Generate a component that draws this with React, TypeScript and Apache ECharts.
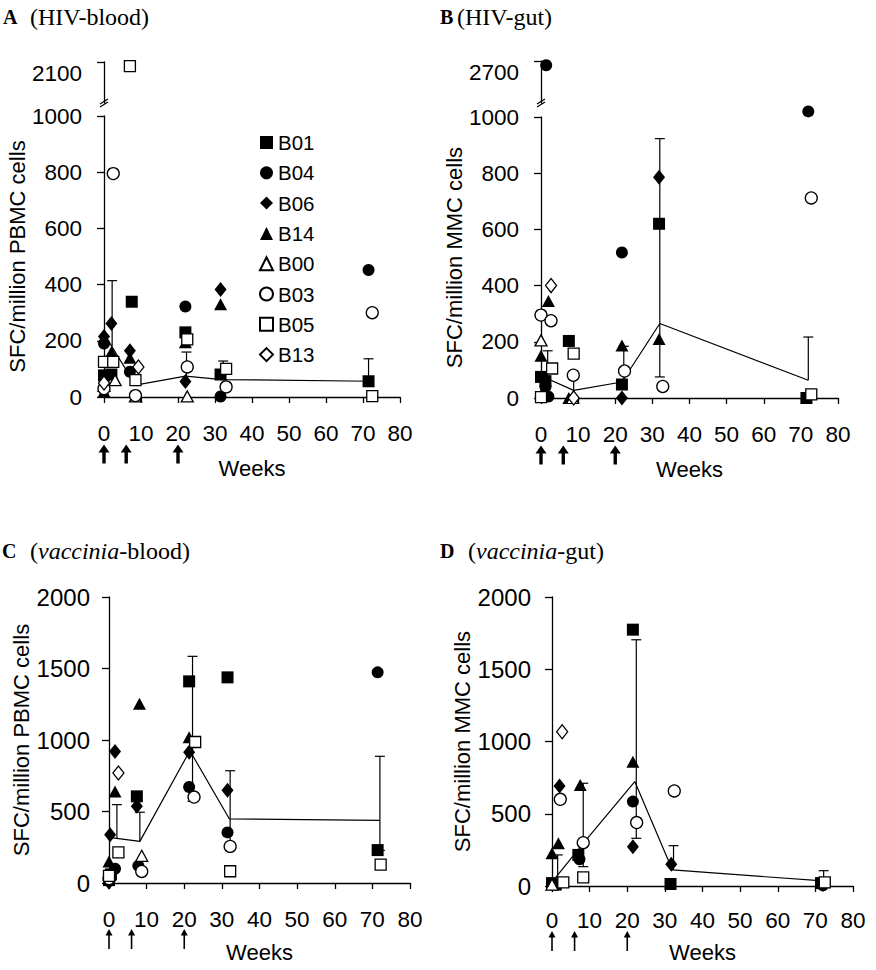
import React, { useEffect, useRef } from "react";
import * as echarts from "echarts";

const FONT = "Liberation Sans";
const SERIF = "Liberation Serif";

const patients = ["B01", "B04", "B06", "B14", "B00", "B03", "B05", "B13"];
const boostWeeks = [0, 6, 20];

// ---------- Panel A: HIV-blood ----------
const hivBloodB01 = [[0, 77], [2, 80], [7.5, 339], [22, 230], [31.5, 80], [71.5, 56]];
const hivBloodB04 = [[0, 190], [7, 90], [22, 322], [31.5, 2], [71.5, 452]];
const hivBloodB06 = [[0, 215], [2, 262], [7, 165], [22, 55], [31.5, 383]];
const hivBloodB14 = [[0, 20], [2, 160], [7, 140], [22, 195], [31.5, 330]];
const hivBloodB00 = [[0, 40], [3, 60], [8.5, 2], [22.5, 2]];
const hivBloodB03 = [[0, 30], [2.5, 795], [8.5, 5], [22.5, 107], [33, 36], [72.5, 300]];
const hivBloodB05 = [[0, 125], [2.5, 125], [8.5, 60], [22.5, 205], [33, 100], [72.5, 3]];
const hivBloodB13 = [[0, 50], [9.3, 107]];
const hivBloodHighB05 = [[7, 2080]];
const hivBloodMean = [[0.5, 215], [8.5, 42], [22, 74], [32, 62], [72, 56]];
const hivBloodError = [[2.2, 180, 414, 0], [22.3, 74, 160, 0], [32.2, 62, 128, 0], [71.5, 56, 136, 0]];

// ---------- Panel B: HIV-gut ----------
const hivGutB01 = [[0, 75], [1.2, 60], [7.5, 203], [21.8, 48], [31.8, 620], [71.5, 0]];
const hivGutB04 = [[1.2, 40], [2, 5], [21.8, 518], [72, 1020]];
const hivGutB06 = [[1, 20], [21.8, 0], [31.8, 786]];
const hivGutB14 = [[0, 150], [2, 345], [7.5, 0], [21.8, 187], [31.8, 210]];
const hivGutB00 = [[0, 205], [8.5, 0]];
const hivGutB03 = [[0, 295], [2.7, 275], [8.7, 81], [22.5, 96], [32.8, 41], [72.8, 712]];
const hivGutB05 = [[0, 3], [3, 105], [8.8, 158], [72.8, 13]];
const hivGutB13 = [[2.7, 400], [8.8, 0]];
const hivGutHighB04 = [[1.4, 2680]];
const hivGutMean = [[0.7, 75], [8.8, 27], [21.8, 57], [32, 265], [72, 63]];
const hivGutError = [[1.8, 70, 168, 0], [8.8, 27, 80, 0], [22.3, 57, 184, 0], [32, 75, 923, 1], [72, 63, 217, 0]];

// ---------- Panel C: vaccinia-blood ----------
const vacBloodB01 = [[0, 20], [0.5, 60], [7.4, 606], [21.3, 1410], [31.5, 1438], [71.4, 230]];
const vacBloodB04 = [[0.5, 40], [1.6, 100], [7.8, 120], [21.3, 671], [31.5, 354], [71.4, 1473]];
const vacBloodB06 = [[0, 5], [0.3, 338], [1.6, 920], [7.4, 536], [21.3, 914], [31.5, 648]];
const vacBloodB14 = [[0, 150], [1.6, 640], [8.1, 1254], [21.3, 1020]];
const vacBloodB00 = [[8.7, 190]];
const vacBloodB03 = [[0, 30], [8.7, 81], [22.6, 601], [32.2, 256]];
const vacBloodB05 = [[0, 50], [2.5, 214], [22.9, 986], [32.2, 82], [72.2, 128]];
const vacBloodB13 = [[2.5, 769]];
const vacBloodMean = [[1, 315], [8.2, 291], [21.5, 925], [32, 448], [72, 438]];
const vacBloodError = [[2.1, 315, 548, 0], [8.2, 291, 495, 0], [22.2, 571, 1585, 1], [32.2, 256, 785, 1], [72, 228, 886, 1]];

// ---------- Panel D: vaccinia-gut ----------
const vacGutB01 = [[0, 20], [1, 10], [7, 215], [21.5, 1774], [31.5, 14], [71.5, 20]];
const vacGutB04 = [[1, 15], [7.3, 185], [21.5, 584], [72, 5]];
const vacGutB06 = [[2, 692], [21.5, 272], [31.7, 150], [72, 10]];
const vacGutB14 = [[0, 226], [1.7, 295], [7.5, 699], [21.5, 860]];
const vacGutB00 = [[0, 10]];
const vacGutB03 = [[2.2, 600], [8.3, 300], [22.5, 439], [32.5, 658]];
const vacGutB05 = [[3, 25], [8.3, 60], [72.5, 25]];
const vacGutB13 = [[2.7, 1068]];
const vacGutMean = [[1, 60], [8.3, 295], [22, 723], [32, 111], [72, 35]];
const vacGutError = [[1.5, 60, 215, 0], [8.3, 134, 711, 1], [22.4, 330, 1704, 1], [32.3, 111, 279, 0], [72.2, 35, 106, 0]];

const markerStyle: Record<string, { symbol: string; size: any; filled: boolean }> = {
  B01: { symbol: "rect", size: 12, filled: true },
  B04: { symbol: "circle", size: 12, filled: true },
  B06: { symbol: "diamond", size: [12, 15], filled: true },
  B14: { symbol: "triangle", size: [13, 12], filled: true },
  B00: { symbol: "triangle", size: [12, 11], filled: false },
  B03: { symbol: "circle", size: 12, filled: false },
  B05: { symbol: "rect", size: 11, filled: false },
  B13: { symbol: "diamond", size: [11, 14], filled: false },
};

const AXIS_LINE = { lineStyle: { color: "#000", width: 1.3 } };
const plain = (v: number) => String(v);

function scatter(name: string, gi: number, data: number[][]) {
  const m = markerStyle[name];
  return {
    type: "scatter",
    name,
    xAxisIndex: gi,
    yAxisIndex: gi,
    data,
    symbol: m.symbol,
    symbolSize: m.size,
    clip: false,
    z: 4,
    itemStyle: m.filled
      ? { color: "#000", borderColor: "#000", borderWidth: 0, opacity: 1 }
      : { color: "#fff", borderColor: "#000", borderWidth: 1.3, opacity: 1 },
  };
}

function meanLine(gi: number, data: number[][]) {
  return {
    type: "line",
    name: "mean",
    xAxisIndex: gi,
    yAxisIndex: gi,
    data,
    symbol: "none",
    z: 2,
    lineStyle: { color: "#000", width: 1.2 },
  };
}

function errorBars(gi: number, data: number[][]) {
  return {
    type: "custom",
    name: "sd",
    xAxisIndex: gi,
    yAxisIndex: gi,
    data,
    z: 3,
    silent: true,
    encode: { x: 0, y: [1, 2] },
    renderItem: (_p: any, api: any) => {
      const x = api.value(0);
      const lo = api.coord([x, api.value(1)]);
      const hi = api.coord([x, api.value(2)]);
      const cw = 5;
      const style = { stroke: "#000", lineWidth: 1.2, fill: "none" };
      const children: any[] = [
        { type: "line", shape: { x1: lo[0], y1: lo[1], x2: hi[0], y2: hi[1] }, style },
        { type: "line", shape: { x1: hi[0] - cw, y1: hi[1], x2: hi[0] + cw, y2: hi[1] }, style },
      ];
      if (api.value(3)) {
        children.push({ type: "line", shape: { x1: lo[0] - cw, y1: lo[1], x2: lo[0] + cw, y2: lo[1] }, style });
      }
      return { type: "group", children };
    },
  };
}

function arrows(gi: number, bold: boolean, offset: number) {
  return {
    type: "scatter",
    name: "boost",
    xAxisIndex: gi,
    yAxisIndex: gi,
    data: boostWeeks.map((w) => [w, 0]),
    clip: false,
    silent: true,
    z: 5,
    symbol: bold
      ? "path://M5.5,0L11,8L7.2,8L7.2,19L3.8,19L3.8,8L0,8Z"
      : "path://M3.5,0L7,6.5L4.3,6.5L4.3,20L2.7,20L2.7,6.5L0,6.5Z",
    symbolSize: bold ? [11, 19] : [7, 20],
    symbolOffset: [0, offset],
    itemStyle: { color: "#000", opacity: 1 },
  };
}

function xMain(gi: number, labelMargin: number, nameGap: number) {
  return {
    gridIndex: gi,
    type: "value",
    min: 0,
    max: 80,
    interval: 10,
    axisLine: { show: true, ...AXIS_LINE },
    axisTick: { show: true, length: 6, lineStyle: { color: "#000", width: 1.3 } },
    axisLabel: { color: "#000", fontSize: 22.5, fontFamily: FONT, margin: labelMargin, formatter: plain },
    splitLine: { show: false },
    name: "Weeks",
    nameLocation: "middle",
    nameGap,
    nameTextStyle: { color: "#000", fontSize: 22, fontFamily: FONT },
  };
}

function yMain(gi: number, max: number, interval: number, name: string, fontSize: number, margin: number) {
  return {
    gridIndex: gi,
    type: "value",
    min: 0,
    max,
    interval,
    axisLine: { show: true, ...AXIS_LINE },
    axisTick: { show: true, length: 7, lineStyle: { color: "#000", width: 1.3 } },
    axisLabel: { color: "#000", fontSize, fontFamily: FONT, margin, formatter: plain },
    splitLine: { show: false },
    name,
    nameLocation: "middle",
    nameGap: 73,
    nameTextStyle: { color: "#000", fontSize: 22, fontFamily: FONT },
  };
}

function yHigh(gi: number, min: number, max: number) {
  return {
    gridIndex: gi,
    type: "value",
    min,
    max,
    axisLine: { show: true, ...AXIS_LINE },
    axisTick: { show: true, length: 7, customValues: [max], lineStyle: { color: "#000", width: 1.3 } },
    axisLabel: {
      color: "#000", fontSize: 22.5, fontFamily: FONT, margin: 22,
      customValues: [max], verticalAlign: "top", formatter: plain,
    },
    splitLine: { show: false },
  };
}

function xHidden(gi: number) {
  return { gridIndex: gi, type: "value", min: 0, max: 80, show: false };
}

function breakMarks(x: number, y: number) {
  const s = { stroke: "#000", lineWidth: 1.2 };
  return [
    { type: "line", shape: { x1: x - 4, y1: y + 1, x2: x + 4, y2: y - 4 }, style: s },
    { type: "line", shape: { x1: x - 4, y1: y + 4, x2: x + 4, y2: y - 1 }, style: s },
  ];
}

function panelTitle(letter: string, x: number, y: number, textX: number, text: string) {
  return [
    {
      type: "text",
      x,
      y,
      style: { text: letter, font: `bold 20px "${SERIF}"`, fill: "#000", verticalAlign: "middle" },
    },
    {
      type: "text",
      x: textX,
      y,
      style: {
        text,
        font: `24px "${SERIF}"`,
        fill: "#000",
        verticalAlign: "middle",
        rich: { i: { fontStyle: "italic", fontSize: 24, fontFamily: SERIF, fill: "#000" } },
      },
    },
  ];
}

export default function App() {
  const ref = useRef<HTMLDivElement>(null);
  useEffect(() => {
    document.body.style.margin = "0";
    if (!ref.current) return;
    const chart = echarts.init(ref.current, null, { renderer: "svg" });

    const panelSeries = (gi: number, sets: Record<string, number[][]>) =>
      patients.filter((p) => sets[p]).map((p) => scatter(p, gi, sets[p]));

    const option: any = {
      animation: false,
      backgroundColor: "#fff",
      grid: [
        { left: 104, top: 116, width: 296, height: 281 },
        { left: 104, top: 62, width: 296, height: 41 },
        { left: 541, top: 117, width: 297, height: 281 },
        { left: 541, top: 61, width: 297, height: 42 },
        { left: 109, top: 597, width: 301, height: 286 },
        { left: 552, top: 597, width: 301, height: 289 },
      ],
      xAxis: [xMain(0, 25, 60), xHidden(1), xMain(2, 25, 60), xHidden(3), xMain(4, 25, 58), xMain(5, 23, 55)],
      yAxis: [
        yMain(0, 1000, 200, "SFC/million PBMC cells", 22.5, 22),
        yHigh(1, 1900, 2100),
        yMain(2, 1000, 200, "SFC/million MMC cells", 22.5, 22),
        yHigh(3, 2500, 2700),
        yMain(4, 2000, 500, "SFC/million PBMC cells", 24, 19),
        yMain(5, 2000, 500, "SFC/million MMC cells", 24, 21),
      ],
      legend: {
        orient: "vertical",
        left: 259,
        top: 132,
        padding: 0,
        itemWidth: 13,
        itemHeight: 13,
        itemGap: 9.3,
        selectedMode: false,
        data: patients,
        textStyle: { color: "#000", fontSize: 20.5, fontFamily: FONT, lineHeight: 20 },
      },
      series: [
        meanLine(0, hivBloodMean),
        errorBars(0, hivBloodError),
        ...panelSeries(0, {
          B01: hivBloodB01, B04: hivBloodB04, B06: hivBloodB06, B14: hivBloodB14,
          B00: hivBloodB00, B03: hivBloodB03, B05: hivBloodB05, B13: hivBloodB13,
        }),
        scatter("B05", 1, hivBloodHighB05),
        arrows(0, true, 57),

        meanLine(2, hivGutMean),
        errorBars(2, hivGutError),
        ...panelSeries(2, {
          B01: hivGutB01, B04: hivGutB04, B06: hivGutB06, B14: hivGutB14,
          B00: hivGutB00, B03: hivGutB03, B05: hivGutB05, B13: hivGutB13,
        }),
        scatter("B04", 3, hivGutHighB04),
        arrows(2, true, 57),

        meanLine(4, vacBloodMean),
        errorBars(4, vacBloodError),
        ...panelSeries(4, {
          B01: vacBloodB01, B04: vacBloodB04, B06: vacBloodB06, B14: vacBloodB14,
          B00: vacBloodB00, B03: vacBloodB03, B05: vacBloodB05, B13: vacBloodB13,
        }),
        arrows(4, false, 56),

        meanLine(5, vacGutMean),
        errorBars(5, vacGutError),
        ...panelSeries(5, {
          B01: vacGutB01, B04: vacGutB04, B06: vacGutB06, B14: vacGutB14,
          B00: vacGutB00, B03: vacGutB03, B05: vacGutB05, B13: vacGutB13,
        }),
        arrows(5, false, 55),
      ],
      graphic: [
        ...panelTitle("A", 3, 17, 30, "(HIV-blood)"),
        ...panelTitle("B", 440, 17, 457, "(HIV-gut)"),
        ...panelTitle("C", 2, 551, 30, "({i|vaccinia}-blood)"),
        ...panelTitle("D", 440, 551, 468, "({i|vaccinia}-gut)"),
        ...breakMarks(104, 103),
        ...breakMarks(541, 103),
      ],
    };
    chart.setOption(option);
    return () => chart.dispose();
  }, []);
  return <div ref={ref} style={{ width: 876, height: 970 }} />;
}
